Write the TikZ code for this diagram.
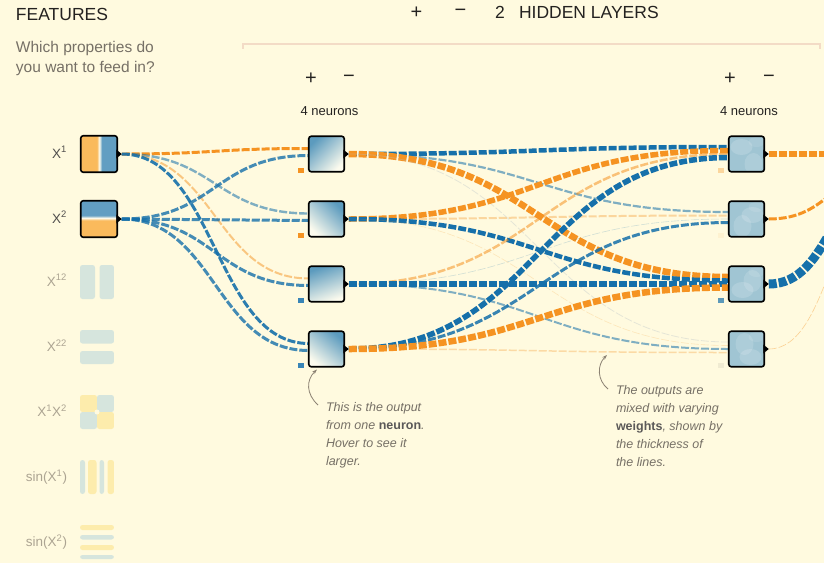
\documentclass[tikz,border=0pt]{standalone}
\usepackage{fontspec}
\setmainfont{Liberation Sans}
\usetikzlibrary{calc,arrows.meta}

\definecolor{paper}{RGB}{255,250,223}
\definecolor{ink}{RGB}{36,34,32}
\definecolor{note}{RGB}{118,112,102}
\definecolor{dim}{RGB}{172,164,146}
\definecolor{wo}{RGB}{245,147,34}
\definecolor{wb}{RGB}{22,112,170}
\definecolor{fo}{RGB}{250,186,92}
\definecolor{fb}{RGB}{98,158,194}
\definecolor{nb}{RGB}{92,155,190}
\definecolor{nw}{RGB}{252,251,238}
\definecolor{mb}{RGB}{160,197,211}
\definecolor{pb}{RGB}{214,229,221}
\definecolor{py}{RGB}{253,236,172}
\definecolor{rulec}{RGB}{243,219,198}
\definecolor{arrowc}{RGB}{140,130,115}

% feature heat maps: X1 splits left/right, X2 splits top/bottom
\pgfdeclarehorizontalshading{xonesh}{100bp}{color(0bp)=(fo); color(25bp)=(fo); color(47bp)=(fo); color(50.5bp)=(nw); color(54bp)=(fb); color(75bp)=(fb); color(100bp)=(fb)}
\pgfdeclareverticalshading{xtwosh}{100bp}{color(0bp)=(fo); color(25bp)=(fo); color(48bp)=(fo); color(51.5bp)=(nw); color(55bp)=(fb); color(75bp)=(fb); color(100bp)=(fb)}

\pgfdeclarelayer{paperlayer}
\pgfdeclarelayer{wirelayer}
\pgfsetlayers{paperlayer,wirelayer,main}

% weighted connection: horizontal-tangent cubic from a source to a target anchor (+ vertical offset)
\newcommand\wire[4]{%
  \draw[wire,#1] let \p1=(#2), \p2=($(#3)+(0,#4)$) in
    (\p1) .. controls ({0.5*\x1+0.5*\x2},\y1) and ({0.5*\x1+0.5*\x2},\y2) .. (\p2);}
% small black output tip on the right side of a box
\newcommand\outtip[2]{%
  \fill[black] ($(#1.east)+(-1,-4.5)$) -- ($(#1.east)+(4.5,0)$) -- ($(#1.east)+(-1,4.5)$) -- cycle;
  \coordinate (#2) at ($(#1.east)+(4.5,0)$);}
% band inside a box, given relative to the box centre
\newcommand\band[5]{%
  \fill[#1] ($(path picture bounding box.center)+(#2,#3)$) rectangle ($(path picture bounding box.center)+(#4,#5)$);}

\begin{document}
\begin{tikzpicture}[x=1pt,y=-1pt,
  every node/.style={inner sep=0pt, outer sep=0pt},
  featbox/.style={draw=black, line width=1.6pt, rounded corners=2.5pt, minimum size=36.5pt},
  ghost/.style={rounded corners=2.5pt, minimum size=34pt},
  nbox/.style={draw=black, line width=1.6pt, rounded corners=2.5pt, minimum size=35.5pt},
  marker/.style={minimum width=5.5pt, minimum height=5pt},
  wire/.style={dash pattern=on 8pt off 2pt, line cap=butt},
  title/.style={font=\fontsize{17.5}{20}\selectfont, text=ink},
  pm/.style={font=\fontsize{20}{22}\selectfont, text=ink},
  lab/.style={font=\fontsize{13.5}{16}\selectfont, text=ink!80, anchor=base east},
  dimlab/.style={font=\fontsize{13.5}{16}\selectfont, text=dim, anchor=base east},
  callout/.style={font=\fontsize{12.5}{18}\selectfont\itshape, text=note, align=left, anchor=north west},
  pointer/.style={draw=arrowc, line width=0.8pt, -{Stealth[length=5pt,width=3.5pt]}},
]
\useasboundingbox (0,0) rectangle (824,563);
\begin{pgfonlayer}{paperlayer}
  \fill[paper] (0,0) rectangle (824,563);
\end{pgfonlayer}
\clip (0,0) rectangle (824,563);

% ---------- headings ----------
\node[title, anchor=base west] (feat) at (16,20.5) {FEATURES};
\node[font=\fontsize{15.5}{20}\selectfont, text=note, anchor=base west] (ask1) at (16,52) {Which properties do};
\node[font=\fontsize{15.5}{20}\selectfont, text=note, anchor=base west] (ask2) at (16,72) {you want to feed in?};

\node[pm] (addlayer) at (416.5,13) {+};
\node[pm] (droplayer) at (460.5,13) {−};
\node[title, anchor=base west] (nlayers) at (495,18.5) {2};
\node[title, anchor=base west] (hidden) at (519,18.5) {HIDDEN LAYERS};
\draw[rulec, line width=1.3pt] (243,48.5) -- (243,44) -- (820,44) -- (820,48.5);

\node[pm] (addA) at (311,79) {+};
\node[pm] (dropA) at (349,79) {−};
\node[font=\fontsize{13}{15}\selectfont, text=ink, anchor=base] (cntA) at (329.5,115) {4 neurons};
\node[pm] (addB) at (730,79) {+};
\node[pm] (dropB) at (769,79) {−};
\node[font=\fontsize{13}{15}\selectfont, text=ink, anchor=base] (cntB) at (749,115) {4 neurons};

% ---------- input features ----------
\node[lab] (lx1) at (67,158) {X\textsuperscript{1}};
\node[lab] (lx2) at (67,223) {X\textsuperscript{2}};
\node[featbox, shade, shading=xonesh] (x1) at (99,154) {};
\node[featbox, shade, shading=xtwosh] (x2) at (99,219) {};
\outtip{x1}{x1o}
\outtip{x2}{x2o}

\node[dimlab] (lx1s) at (67,286) {X\textsuperscript{12}};
\node[dimlab] (lx2s) at (67,351.5) {X\textsuperscript{22}};
\node[dimlab] (lxx) at (67,416.5) {X\textsuperscript{1}X\textsuperscript{2}};
\node[dimlab] (lsin1) at (67,481.5) {sin(X\textsuperscript{1})};
\node[dimlab] (lsin2) at (67,546.5) {sin(X\textsuperscript{2})};

\node[ghost, path picture={
  \band{pb}{-17}{-17}{-2}{17}
  \band{pb}{2.5}{-17}{17}{17}}] (x1sq) at (97,282) {};
\node[ghost, path picture={
  \band{pb}{-17}{-17}{17}{-3.5}
  \band{pb}{-17}{4}{17}{17}}] (x2sq) at (97,347) {};
\node[ghost, path picture={
  \band{py}{-17}{-17}{0}{0}
  \band{pb}{0}{-17}{17}{0}
  \band{pb}{-17}{0}{0}{17}
  \band{py}{0}{0}{17}{17}
  \fill[paper] (path picture bounding box.center) circle (2.5);}] (xprod) at (97,412) {};
\node[ghost, path picture={
  \band{pb}{-17}{-17}{-12}{17}
  \band{py}{-9}{-17}{-0.5}{17}
  \band{pb}{2.5}{-17}{7}{17}
  \band{py}{10.5}{-17}{17}{17}}] (xsin1) at (97,477) {};
\node[ghost, path picture={
  \band{py}{-17}{-17}{17}{-12}
  \band{pb}{-17}{-7}{17}{-2.5}
  \band{py}{-17}{3}{17}{8}
  \band{pb}{-17}{13}{17}{17}}] (xsin2) at (97,542) {};

% ---------- hidden layer 1 ----------
\node[nbox, shade, top color=nb, bottom color=nw, shading angle=45] (n1) at (326.5,154) {};
\node[nbox, shade, top color=nb, bottom color=nw, shading angle=-45] (n2) at (326.5,219) {};
\node[nbox, shade, top color=nb, bottom color=nw, shading angle=20] (n3) at (326.5,284) {};
\node[nbox, shade, top color=nb, bottom color=nw, shading angle=-40] (n4) at (326.5,349) {};
\outtip{n1}{n1o}
\outtip{n2}{n2o}
\outtip{n3}{n3o}
\outtip{n4}{n4o}
\node[marker, fill=wo] (n1m) at (301,170.5) {};
\node[marker, fill=wo] (n2m) at (301,235.5) {};
\node[marker, fill=wb!85] (n3m) at (301,300.5) {};
\node[marker, fill=wb!85] (n4m) at (301,365.5) {};

% ---------- hidden layer 2 ----------
\tikzset{mottle/.style={nbox, fill=mb, path picture={
  \fill[white, opacity=.16] ($(path picture bounding box.center)+(#1)$) ellipse (11 and 8);
  \fill[white, opacity=.14] ($(path picture bounding box.center)-(#1)+(2,3)$) ellipse (9 and 11);
  \fill[white, opacity=.10] ($(path picture bounding box.center)+(10,-12)$) ellipse (8 and 5);}}}
\node[mottle={-5,-7}] (m1) at (746.5,154) {};
\node[mottle={6,-4}] (m2) at (746.5,219) {};
\node[mottle={-4,6}] (m3) at (746.5,284) {};
\node[mottle={4,8}] (m4) at (746.5,349) {};
\outtip{m1}{m1o}
\outtip{m2}{m2o}
\outtip{m3}{m3o}
\outtip{m4}{m4o}
\node[marker, fill=wo!35!paper] (m1m) at (721,170.5) {};
\node[marker, fill=wo!8!paper] (m2m) at (721,235.5) {};
\node[marker, fill=wb!70!paper] (m3m) at (721,300.5) {};
\node[marker, fill=black!6!paper] (m4m) at (721,365.5) {};

% output neuron, off to the right
\coordinate (outnode) at (895,165);

% ---------- connections ----------
\begin{pgfonlayer}{wirelayer}
% features -> layer 1
\wire{wo, line width=3pt}{x1o}{n1.west}{-5.5}
\wire{wb, line width=2.4pt, opacity=.55}{x1o}{n2.west}{-5.5}
\wire{wo, line width=2pt, opacity=.5}{x1o}{n3.west}{-5.5}
\wire{wb, line width=3pt, opacity=.9}{x1o}{n4.west}{-5.5}
\wire{wb, line width=3pt, opacity=.8}{x2o}{n1.west}{1.5}
\wire{wb, line width=3pt, opacity=.8}{x2o}{n2.west}{1.5}
\wire{wb, line width=3pt, opacity=.8}{x2o}{n3.west}{1.5}
\wire{wb, line width=3pt, opacity=.8}{x2o}{n4.west}{1.5}
% layer 1 -> layer 2
\wire{wb, line width=4.5pt}{n1o}{m1.west}{-7}
\wire{wb, line width=2.2pt, opacity=.55}{n1o}{m2.west}{-7}
\wire{wo, line width=6.5pt}{n1o}{m3.west}{-7}
\wire{wb!40!black!30, line width=.8pt, opacity=.35}{n1o}{m4.west}{-7}
\wire{wo, line width=5.5pt}{n2o}{m1.west}{-3.5}
\wire{wo, line width=2pt, opacity=.35}{n2o}{m2.west}{-3.5}
\wire{wb, line width=4.5pt}{n2o}{m3.west}{-3.5}
\wire{wo, line width=.6pt, opacity=.2}{n2o}{m4.west}{-3.5}
\wire{wo, line width=2.5pt, opacity=.55}{n3o}{m1.west}{0}
\wire{wb, line width=.6pt, opacity=.2}{n3o}{m2.west}{0}
\wire{wb, line width=5.5pt}{n3o}{m3.west}{0}
\wire{wb, line width=2pt, opacity=.55}{n3o}{m4.west}{0}
\wire{wb, line width=5.5pt}{n4o}{m1.west}{3.5}
\wire{wb, line width=3pt, opacity=.85}{n4o}{m2.west}{3.5}
\wire{wo, line width=6.5pt}{n4o}{m3.west}{3.5}
\wire{wo, line width=1.5pt, opacity=.3}{n4o}{m4.west}{3.5}
% layer 2 -> output
\wire{wo, line width=6pt}{m1o}{outnode}{-11}
\wire{wo, line width=3pt}{m2o}{outnode}{3}
\wire{wb, line width=9pt}{m3o}{outnode}{10}
\wire{wo, line width=.6pt, opacity=.4}{m4o}{outnode}{18}
\end{pgfonlayer}

% ---------- call-outs ----------
\node[callout] (noteA) at (326,402.5) {This is the output\\from one {\upshape\bfseries\color{ink!75}neuron}.\\Hover to see it\\larger.};
\draw[pointer] (318,405) .. controls (306,394) and (306,380) .. (317,369.5);
\node[callout] (noteB) at (616,385.5) {The outputs are\\mixed with varying\\{\upshape\bfseries\color{ink!75}weights}, shown by\\the thickness of\\the lines.};
\draw[pointer] (608,389) .. controls (597,380) and (597,365) .. (607,355);
\end{tikzpicture}
\end{document}
